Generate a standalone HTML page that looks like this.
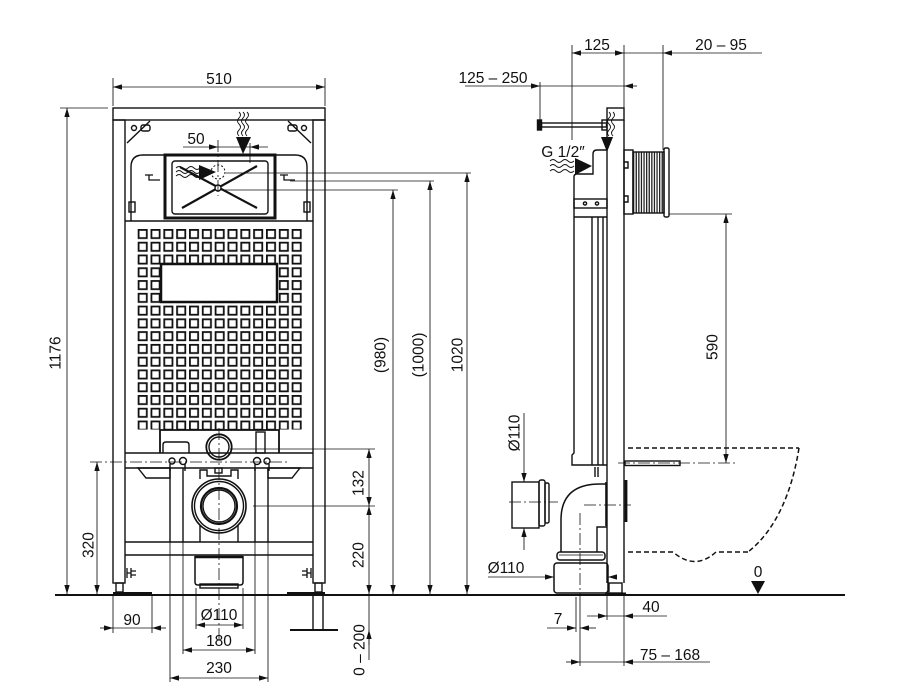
<!DOCTYPE html>
<html><head><meta charset="utf-8"><style>
html,body{margin:0;padding:0;background:#fff;}
svg{display:block;}
text{font-family:"Liberation Sans","DejaVu Sans",sans-serif;font-size:15.5px;fill:#111;}
</style></head><body>
<svg width="907" height="697" viewBox="0 0 907 697" xmlns="http://www.w3.org/2000/svg">
<defs>
<marker id="a" viewBox="0 0 10 6" refX="10" refY="3" markerWidth="9" markerHeight="5.4" markerUnits="userSpaceOnUse" orient="auto-start-reverse"><path d="M0,0L10,3L0,6z" fill="#111"/></marker>
<pattern id="g" patternUnits="userSpaceOnUse" x="137.7" y="229" width="12.83" height="12.77"><rect x="0.9" y="0.9" width="8.2" height="8.2" fill="none" stroke="#111" stroke-width="1.8"/></pattern>
<pattern id="h" patternUnits="userSpaceOnUse" x="633" y="0" width="2.6" height="10"><rect width="1.3" height="10" fill="#222"/></pattern>
</defs>
<rect width="907" height="697" fill="#fff"/>

<!-- ================= FRONT VIEW ================= -->
<g fill="none" stroke="#111" stroke-width="1.4">
  <rect x="113" y="108" width="212" height="12"/>
  <rect x="113" y="120" width="12" height="463"/>
  <rect x="313" y="120" width="12" height="463"/>
  <rect x="116" y="583" width="7" height="9"/>
  <rect x="315" y="583" width="7" height="9"/>
  <path d="M127,143 L150,121 M311,143 L288,121"/>
  <circle cx="134" cy="128" r="2.5"/>
  <rect x="141" y="125" width="9" height="6" rx="2"/>
  <circle cx="304" cy="128" r="2.5"/>
  <rect x="288" y="125" width="9" height="6" rx="2"/>
  <path d="M131,221 L131,167 Q131,155 143,155 L165,155 M275,155 L295,155 Q307,155 307,167 L307,221"/>
  <line x1="125" y1="221" x2="313" y2="221"/>
  <rect x="129" y="202" width="6" height="10"/>
  <rect x="304" y="202" width="6" height="10"/>
  <path d="M145,175 L153,175 M149,175 L149,180 L160,180 M280,175 L288,175 M284,175 L284,180 L295,180" stroke-width="1.3"/>
  <rect x="165" y="155" width="110" height="63" stroke-width="3"/>
  <rect x="172" y="161" width="96" height="53" rx="3"/>
  <path d="M180,167 L257,208 M257,166 L182,208" stroke-width="2.2"/>
  <circle cx="218" cy="188" r="3" fill="#fff"/>
  <circle cx="218" cy="172" r="7" stroke-dasharray="2,2" stroke-width="1"/>
  <path d="M176,168 q3,-3 6,0 q3,3 6,0 q3,-3 6,0 q3,3 6,0 M176,172 q3,-3 6,0 q3,3 6,0 q3,-3 6,0 q3,3 6,0 M176,176 q3,-3 6,0 q3,3 6,0 q3,-3 6,0 q3,3 6,0" stroke-width="0.9"/>
  <path d="M239,112 q3,3 0,6 q-3,3 0,6 q3,3 0,6 q-3,3 0,6 M243,112 q3,3 0,6 q-3,3 0,6 q3,3 0,6 q-3,3 0,6 M247,112 q3,3 0,6 q-3,3 0,6 q3,3 0,6 q-3,3 0,6" stroke-width="0.9"/>
</g>
<polygon points="199,165 199,180 216,172" fill="#111"/>
<polygon points="236,137 251,137 243,154" fill="#111"/>

<!-- grid -->
<rect x="137" y="228.5" width="165" height="201" fill="url(#g)"/>
<rect x="161" y="264" width="116" height="38" fill="#fff" stroke="#111" stroke-width="2.5"/>

<!-- lower section -->
<g fill="none" stroke="#111" stroke-width="1.4">
  <path d="M160,453 L160,430 L279,430 L279,453" stroke-width="1.8"/>
  <path d="M163,453 L163,445 Q163,442 166,442 L186,442 Q189,442 189,445 L189,453"/>
  <rect x="256" y="432" width="9" height="21"/>
  <circle cx="219" cy="447" r="12.7" stroke-width="1.8"/>
  <circle cx="219" cy="447" r="10"/>
  <line x1="125" y1="453" x2="313" y2="453"/>
  <line x1="125" y1="468" x2="313" y2="468"/>
  <circle cx="172" cy="461" r="3"/>
  <circle cx="183" cy="461" r="3.5"/>
  <circle cx="257" cy="461" r="3.5"/>
  <circle cx="267" cy="461" r="3"/>
  <path d="M170,464 L170,471 M185,464 L185,471 M255,464 L255,471 M269,464 L269,471"/>
  <polygon points="138,468 170,468 170,478 146,478"/>
  <polygon points="268,468 300,468 292,478 268,478"/>
  <path d="M170,468 V542 M183,468 V542 M255,468 V542 M268,468 V542"/>
  <path d="M200,479 L200,470 L207,470 L207,476 L231,476 L231,470 L238,470 L238,479"/>
  <rect x="215" y="468" width="7" height="5"/>
  <circle cx="219" cy="506" r="27" stroke-width="1.6"/>
  <circle cx="219" cy="506" r="24.5"/>
  <circle cx="219" cy="506" r="18" stroke-width="2.2"/>
  <circle cx="219" cy="506" r="16"/>
  <path d="M200,525 V542 M238,525 V542"/>
  <line x1="125" y1="542" x2="313" y2="542"/>
  <line x1="125" y1="555" x2="313" y2="555"/>
  <path d="M195,556 L195,582 Q195,585 198,585 L240,585 Q243,585 243,582 L243,556" stroke-width="1.5"/>
  <line x1="195" y1="557" x2="243" y2="557" stroke-width="2.5"/>
  <rect x="200" y="584" width="38" height="4"/>
  <path d="M127,568 V578 M131,568 V578 M127,573 H131 M131,571 H136 M131,575 H136 M311,568 V578 M307,568 V578 M307,573 H311 M302,571 H307 M302,575 H307" stroke-width="1.3"/>
  <path d="M313,595 V630 M323,595 V630"/>
</g>
<path d="M113,593.5 H152 M287,593.5 H325" stroke="#111" stroke-width="3"/>
<line x1="290" y1="630" x2="338" y2="630" stroke="#111" stroke-width="2"/>

<g fill="none" stroke="#111" stroke-width="0.8" stroke-dasharray="12,3,2,3">
  <line x1="218" y1="140" x2="218" y2="196"/>
  <line x1="219" y1="428" x2="219" y2="640"/>
  <line x1="90" y1="462" x2="290" y2="462"/>
</g>

<g fill="none" stroke="#111" stroke-width="0.85">
  <path d="M113,78 V106 M325,78 V106"/>
  <line x1="113" y1="87" x2="325" y2="87" marker-start="url(#a)" marker-end="url(#a)"/>
  <line x1="60" y1="108" x2="108" y2="108"/>
  <line x1="67" y1="108" x2="67" y2="594" marker-start="url(#a)" marker-end="url(#a)"/>
  <line x1="97" y1="462" x2="97" y2="594" marker-start="url(#a)" marker-end="url(#a)"/>
  <line x1="250" y1="143" x2="250" y2="163"/>
  <line x1="183" y1="147" x2="218" y2="147" marker-end="url(#a)"/>
  <line x1="218" y1="147" x2="250" y2="147"/>
  <line x1="268" y1="147" x2="250" y2="147" marker-end="url(#a)"/>
  <line x1="226" y1="173" x2="471" y2="173"/>
  <line x1="290" y1="181" x2="434" y2="181"/>
  <line x1="221" y1="190" x2="398" y2="190"/>
  <line x1="393" y1="190" x2="393" y2="594" marker-start="url(#a)" marker-end="url(#a)"/>
  <line x1="430" y1="181" x2="430" y2="594" marker-start="url(#a)" marker-end="url(#a)"/>
  <line x1="467" y1="173" x2="467" y2="594" marker-start="url(#a)" marker-end="url(#a)"/>
  <line x1="230" y1="449" x2="375" y2="449"/>
  <line x1="253" y1="506" x2="375" y2="506"/>
  <line x1="369" y1="449" x2="369" y2="506" marker-start="url(#a)" marker-end="url(#a)"/>
  <line x1="369" y1="506" x2="369" y2="594" marker-start="url(#a)" marker-end="url(#a)"/>
  <line x1="369" y1="595" x2="369" y2="660"/>
  <line x1="369" y1="645" x2="369" y2="630" marker-end="url(#a)"/>
  <path d="M113,596 V633 M152,596 V633"/>
  <line x1="100" y1="628" x2="113" y2="628" marker-end="url(#a)"/>
  <line x1="113" y1="628" x2="152" y2="628"/>
  <line x1="166" y1="628" x2="152" y2="628" marker-end="url(#a)"/>
  <path d="M196,588 V629 M243,588 V629"/>
  <line x1="196" y1="625" x2="243" y2="625" marker-start="url(#a)" marker-end="url(#a)"/>
  <path d="M183,542 V654 M255,542 V654"/>
  <line x1="183" y1="650" x2="255" y2="650" marker-start="url(#a)" marker-end="url(#a)"/>
  <path d="M170,542 V682 M268,542 V682"/>
  <line x1="170" y1="678" x2="268" y2="678" marker-start="url(#a)" marker-end="url(#a)"/>
</g>

<line x1="55" y1="595" x2="845" y2="595" stroke="#111" stroke-width="2"/>

<!-- ================= SIDE VIEW ================= -->
<g fill="none" stroke="#111" stroke-width="1.4">
  <rect x="607" y="108" width="17" height="12"/>
  <path d="M607,120 V583 M624,120 V583"/>
  <rect x="609" y="583" width="13" height="10"/>
  <rect x="537.5" y="120" width="4" height="10" fill="#111"/>
  <rect x="541.5" y="123" width="65" height="4"/>
  <rect x="602" y="120" width="5" height="10"/>
  <path d="M609,112 q3,3 0,6 q-3,3 0,6 q3,3 0,6 q-3,3 0,6 M613,112 q3,3 0,6 q-3,3 0,6 q3,3 0,6 q-3,3 0,6" stroke-width="0.9"/>
  <path d="M607,150 H597 Q593,150 593,154 V174 H577 Q574,174 574,177 V453 L572,455 V465 H607"/>
  <rect x="574" y="199" width="33" height="9"/>
  <circle cx="585" cy="203.5" r="1.6"/>
  <circle cx="597" cy="203.5" r="1.6"/>
  <line x1="574" y1="217" x2="607" y2="217"/>
  <path d="M592,217 V465 M598,217 V465 M603,217 V465"/>
  <path d="M595,467 V477 M598,467 V477"/>
  <path d="M550,161 q3,-3 6,0 q3,3 6,0 q3,-3 6,0 q3,3 6,0 M550,166 q3,-3 6,0 q3,3 6,0 q3,-3 6,0 q3,3 6,0 M550,171 q3,-3 6,0 q3,3 6,0 q3,-3 6,0 q3,3 6,0" stroke-width="0.9"/>
  <rect x="624" y="150" width="9" height="64"/>
  <path d="M624,162 h4 v6 h-4 M624,196 h4 v6 h-4"/>
  <rect x="633" y="152" width="31" height="61" fill="url(#h)"/>
  <rect x="664" y="148" width="5" height="69" rx="1.5"/>
  <rect x="625" y="461" width="55" height="4.5"/>
  <line x1="626" y1="480" x2="626" y2="522" stroke-width="2.8"/>
  <rect x="554" y="563" width="54" height="30" rx="3" stroke-width="1.5"/>
  <rect x="557" y="552" width="48" height="8" rx="3" stroke-width="1.5"/>
  <line x1="559" y1="555" x2="603" y2="555" stroke-width="0.8"/>
  <path d="M561,552 V520 Q561,484 600,484 H607" stroke-width="1.5"/>
  <path d="M597,552 V527 H607"/>
  <line x1="606" y1="482" x2="606" y2="526" stroke-width="1.6"/>
  <rect x="512" y="482" width="27" height="46"/>
  <rect x="539" y="480" width="6" height="46" rx="2"/>
  <rect x="545" y="483" width="4" height="40" rx="1.5"/>
</g>
<polygon points="575,158 575,175 592,166" fill="#111"/>
<polygon points="601,137 613,137 607,152" fill="#111"/>
<line x1="605" y1="594" x2="626" y2="594" stroke="#111" stroke-width="3"/>

<g fill="none" stroke="#111" stroke-width="0.8" stroke-dasharray="12,3,2,3">
  <line x1="618" y1="463" x2="736" y2="463"/>
  <line x1="584" y1="505" x2="631" y2="505"/>
  <line x1="509" y1="502" x2="558" y2="502"/>
  <line x1="580" y1="513" x2="580" y2="593"/>
</g>
<g fill="none" stroke="#111" stroke-width="1.5" stroke-dasharray="5,3">
  <line x1="628" y1="448" x2="799" y2="448"/>
  <path d="M799,448 C792,492 776,530 748,552"/>
  <line x1="748" y1="552" x2="716" y2="552"/>
  <path d="M716,552 Q695,571 673,552"/>
  <line x1="673" y1="552" x2="628" y2="552"/>
</g>
<polygon points="751,581 765,581 758,594" fill="#111"/>

<g fill="none" stroke="#111" stroke-width="0.85">
  <path d="M572,45 V140 M624,45 V108 M663,45 V150"/>
  <line x1="572" y1="53" x2="624" y2="53" marker-start="url(#a)" marker-end="url(#a)"/>
  <line x1="624" y1="53" x2="663" y2="53"/>
  <line x1="762" y1="53" x2="663" y2="53" marker-end="url(#a)"/>
  <line x1="540" y1="82" x2="540" y2="121"/>
  <line x1="465" y1="86" x2="540" y2="86" marker-end="url(#a)"/>
  <line x1="540" y1="86" x2="624" y2="86"/>
  <line x1="637" y1="86" x2="624" y2="86" marker-end="url(#a)"/>
  <line x1="669" y1="214" x2="732" y2="214"/>
  <line x1="726" y1="214" x2="726" y2="463" marker-start="url(#a)" marker-end="url(#a)"/>
  <line x1="524" y1="413" x2="524" y2="482" marker-end="url(#a)"/>
  <line x1="524" y1="550" x2="524" y2="528" marker-end="url(#a)"/>
  <line x1="488" y1="577" x2="554" y2="577" marker-end="url(#a)"/>
  <line x1="616" y1="577" x2="608" y2="577" marker-end="url(#a)"/>
  <path d="M607,596 V620 M624,596 V666"/>
  <line x1="587" y1="616" x2="607" y2="616" marker-end="url(#a)"/>
  <line x1="607" y1="616" x2="624" y2="616"/>
  <line x1="667" y1="616" x2="624" y2="616" marker-end="url(#a)"/>
  <path d="M576,597 V632 M580,593 V666"/>
  <line x1="547" y1="628" x2="576" y2="628" marker-end="url(#a)"/>
  <line x1="596" y1="628" x2="580" y2="628" marker-end="url(#a)"/>
  <line x1="566" y1="662" x2="580" y2="662" marker-end="url(#a)"/>
  <line x1="580" y1="662" x2="624" y2="662"/>
  <line x1="710" y1="662" x2="624" y2="662" marker-end="url(#a)"/>
</g>

<g text-anchor="middle">
  <text x="219" y="84">510</text>
  <text x="196" y="144">50</text>
  <text transform="translate(55,353) rotate(-90)" dy="0.36em">1176</text>
  <text transform="translate(88,545) rotate(-90)" dy="0.36em">320</text>
  <text transform="translate(380,355) rotate(-90)" dy="0.36em">(980)</text>
  <text transform="translate(418,355) rotate(-90)" dy="0.36em">(1000)</text>
  <text transform="translate(457,355) rotate(-90)" dy="0.36em">1020</text>
  <text transform="translate(358,483) rotate(-90)" dy="0.36em">132</text>
  <text transform="translate(358,555) rotate(-90)" dy="0.36em">220</text>
  <text transform="translate(359,650) rotate(-90)" dy="0.36em">0 – 200</text>
  <text x="132" y="625">90</text>
  <text x="219" y="620">Ø110</text>
  <text x="219" y="646">180</text>
  <text x="219" y="673">230</text>
  <text x="597" y="50">125</text>
  <text x="721" y="50">20 – 95</text>
  <text x="493" y="83">125 – 250</text>
  <text x="563" y="157">G 1/2″</text>
  <text transform="translate(712,347) rotate(-90)" dy="0.36em">590</text>
  <text transform="translate(514,433) rotate(-90)" dy="0.36em">Ø110</text>
  <text x="506" y="573">Ø110</text>
  <text x="558" y="624">7</text>
  <text x="651" y="612">40</text>
  <text x="670" y="660">75 – 168</text>
  <text x="758" y="577">0</text>
</g>
</svg>
</body></html>
